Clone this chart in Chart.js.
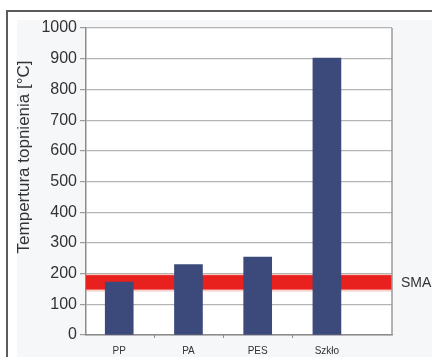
<!DOCTYPE html>
<html>
<head>
<meta charset="utf-8">
<script src="https://cdn.jsdelivr.net/npm/chart.js@4/dist/chart.umd.min.js"></script>
<style>
  html, body { margin: 0; padding: 0; background: #ffffff; }
  #wrap { position: relative; width: 432px; height: 357px; overflow: hidden; }
  #frame { position: absolute; left: 6px; top: 10px; width: 440px; height: 360px;
           border-top: 2px solid #5c5c5c; border-left: 2px solid #5c5c5c; }
  #tint { position: absolute; left: 17px; top: 20px; width: 420px; height: 340px; background: #f6f7f9; }
  canvas { position: absolute; left: 0; top: 0; }
</style>
</head>
<body>
<div id="wrap">
  <div id="frame"></div>
  <div id="tint"></div>
  <canvas id="c" width="432" height="357"></canvas>
</div>
<script>
// Melting temperatures of fibre materials
const categories = ['PP', 'PA', 'PES', 'Szkło'];
const meltTemps = [172, 229, 254, 902];

// SMA processing temperature range [°C]
const smaRange = [148, 195];
const smaLabel = 'SMA';

const yTitle = 'Tempertura topnienia [°C]';
const yMin = 0, yMax = 1000, yStep = 100;

const points = meltTemps.map((v, i) => ({ x: i, y: v }));
const FONT = '"Liberation Sans", Arial, sans-serif';

const plotBackground = {
  id: 'plotBackground',
  beforeDraw(chart) {
    const { ctx, chartArea: a } = chart;
    ctx.save();
    ctx.fillStyle = '#ffffff';
    ctx.fillRect(a.left, a.top, a.right - a.left, a.bottom - a.top);
    ctx.restore();
  }
};

const smaBand = {
  id: 'smaBand',
  beforeDatasetsDraw(chart) {
    const { ctx, chartArea: a, scales: { y } } = chart;
    const top = y.getPixelForValue(smaRange[1]);
    const bot = y.getPixelForValue(smaRange[0]);
    ctx.save();
    ctx.fillStyle = 'rgba(240,120,110,0.35)';
    ctx.fillRect(a.left, top - 1, a.right - a.left, bot - top + 3);
    ctx.fillStyle = '#e8211f';
    ctx.fillRect(a.left, top, a.right - a.left, bot - top);
    ctx.restore();
  },
  afterDraw(chart) {
    const { ctx, chartArea: a, scales: { x, y } } = chart;
    ctx.save();
    // plot frame on the right
    ctx.strokeStyle = '#9a9a9a';
    ctx.lineWidth = 1.5;
    ctx.beginPath();
    ctx.moveTo(a.right, a.top);
    ctx.lineTo(a.right, a.bottom);
    ctx.stroke();
    // small tick marks between categories
    ctx.strokeStyle = '#8c8c8c';
    ctx.lineWidth = 1;
    for (let i = 0; i < categories.length - 1; i++) {
      const px = Math.round(x.getPixelForValue(i + 0.5)) + 0.5;
      ctx.beginPath();
      ctx.moveTo(px, a.bottom);
      ctx.lineTo(px, a.bottom + 3);
      ctx.stroke();
    }
    // SMA label
    const mid = y.getPixelForValue((smaRange[0] + smaRange[1]) / 2);
    ctx.fillStyle = '#333333';
    ctx.font = '14px ' + FONT;
    ctx.textAlign = 'left';
    ctx.textBaseline = 'middle';
    ctx.fillText(smaLabel, a.right + 9, mid + 1);
    // vertical axis title, set a little above the axis middle
    ctx.translate(24, a.top + (a.bottom - a.top) * 0.42);
    ctx.rotate(-Math.PI / 2);
    ctx.textAlign = 'center';
    ctx.font = '17px ' + FONT;
    ctx.fillText(yTitle, 0, 0);
    ctx.restore();
  }
};

new Chart(document.getElementById('c'), {
  type: 'bar',
  data: {
    datasets: [{
      data: points,
      backgroundColor: '#3b4a7a',
      borderWidth: 0,
      barThickness: 28
    }]
  },
  options: {
    responsive: false,
    animation: false,
    events: [],
    layout: { padding: { left: 0, right: 40, top: 28, bottom: 0 } },
    plugins: { legend: { display: false }, tooltip: { enabled: false } },
    scales: {
      x: {
        type: 'linear',
        offset: false,
        min: -0.48,
        max: 3.94,
        afterBuildTicks: s => { s.ticks = categories.map((_, i) => ({ value: i })); },
        ticks: {
          callback: v => categories[v],
          color: '#333333',
          font: { family: FONT, size: 10 },
          padding: 10,
          maxRotation: 0,
          autoSkip: false
        },
        grid: { display: false, drawTicks: false },
        border: { display: true, color: '#8c8c8c', width: 1.5 },
        afterFit: s => { s.height = 22; }
      },
      y: {
        min: yMin,
        max: yMax,
        ticks: {
          stepSize: yStep,
          callback: v => String(v),
          color: '#333333',
          font: { family: FONT, size: 16 },
          padding: 3
        },
        grid: { color: '#b4b4b4', lineWidth: 1.2, tickLength: 6, tickColor: '#9a9a9a' },
        border: { display: true, color: '#8c8c8c', width: 1.5 },
        title: { display: false },
        afterFit: s => { s.width = 86; }
      }
    }
  },
  plugins: [plotBackground, smaBand]
});
</script>
</body>
</html>
